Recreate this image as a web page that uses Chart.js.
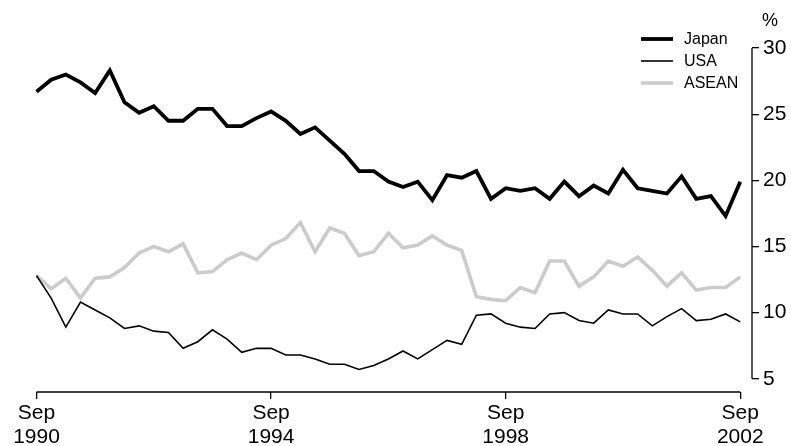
<!DOCTYPE html>
<html>
<head>
<meta charset="utf-8">
<script src="https://cdn.jsdelivr.net/npm/chart.js@4.4.1/dist/chart.umd.min.js"></script>
<style>
  html, body { margin: 0; padding: 0; background: #fff; }
  #wrap { width: 791px; height: 446px; }
</style>
</head>
<body>
<div id="wrap"><canvas id="c" width="791" height="446"></canvas></div>
<script>
const quarters = [
  'Sep 1990','Dec 1990','Mar 1991','Jun 1991','Sep 1991','Dec 1991','Mar 1992','Jun 1992',
  'Sep 1992','Dec 1992','Mar 1993','Jun 1993','Sep 1993','Dec 1993','Mar 1994','Jun 1994',
  'Sep 1994','Dec 1994','Mar 1995','Jun 1995','Sep 1995','Dec 1995','Mar 1996','Jun 1996',
  'Sep 1996','Dec 1996','Mar 1997','Jun 1997','Sep 1997','Dec 1997','Mar 1998','Jun 1998',
  'Sep 1998','Dec 1998','Mar 1999','Jun 1999','Sep 1999','Dec 1999','Mar 2000','Jun 2000',
  'Sep 2000','Dec 2000','Mar 2001','Jun 2001','Sep 2001','Dec 2001','Mar 2002','Jun 2002',
  'Sep 2002'
];
const japan = [26.7, 27.6, 28.0, 27.4, 26.6, 28.3, 25.9, 25.1, 25.6, 24.5,
               24.5, 25.4, 25.4, 24.1, 24.1, 24.7, 25.2, 24.5, 23.5, 24.0,
               23.0, 22.0, 20.7, 20.7, 19.9, 19.5, 19.9, 18.5, 20.4, 20.2,
               20.7, 18.6, 19.4, 19.2, 19.4, 18.6, 19.9, 18.8, 19.6, 19.0,
               20.8, 19.4, 19.2, 19.0, 20.3, 18.6, 18.8, 17.3, 19.9];
const usa = [12.8, 11.1, 8.9, 10.8, 10.2, 9.6, 8.8, 9.0, 8.6, 8.5,
             7.3, 7.8, 8.7, 8.0, 7.0, 7.3, 7.3, 6.8, 6.8, 6.5,
             6.1, 6.1, 5.7, 6.0, 6.5, 7.1, 6.5, 7.2, 7.9, 7.6,
             9.8, 9.9, 9.2, 8.9, 8.8, 9.9, 10.0, 9.4, 9.2, 10.2,
             9.9, 9.9, 9.0, 9.7, 10.3, 9.4, 9.5, 9.9, 9.3];
const asean = [12.8, 11.8, 12.6, 11.1, 12.6, 12.7, 13.4, 14.5, 15.0, 14.6,
               15.2, 13.0, 13.1, 14.0, 14.5, 14.0, 15.1, 15.6, 16.8, 14.6,
               16.4, 16.0, 14.3, 14.6, 16.0, 14.9, 15.1, 15.8, 15.1, 14.7,
               11.2, 11.0, 10.9, 11.9, 11.5, 13.9, 13.9, 12.0, 12.7, 13.9,
               13.5, 14.2, 13.2, 12.0, 13.0, 11.7, 11.9, 11.9, 12.7];
const xTickIndex = [0, 16, 32, 48];
const xTickLabels = [['Sep', '1990'], ['Sep', '1994'], ['Sep', '1998'], ['Sep', '2002']];
const yTicks = [5, 10, 15, 20, 25, 30];
const unitLabel = '%';

const FONT = "'Liberation Sans', Arial, sans-serif";
const toPts = arr => arr.map((v, i) => ({ x: i, y: v }));

const axisLines = {
  id: 'axisLines',
  afterDraw(chart) {
    const ctx = chart.ctx;
    const xs = chart.scales.x, ys = chart.scales.y;
    const ca = chart.chartArea;
    ctx.save();
    ctx.strokeStyle = '#000';
    ctx.lineWidth = 1.3;
    // x axis line
    ctx.beginPath();
    ctx.moveTo(xs.getPixelForValue(0), ca.bottom);
    ctx.lineTo(xs.getPixelForValue(quarters.length - 1), ca.bottom);
    ctx.stroke();
    // y axis line
    ctx.beginPath();
    ctx.moveTo(ca.right, ys.getPixelForValue(yTicks[yTicks.length - 1]));
    ctx.lineTo(ca.right, ys.getPixelForValue(yTicks[0]));
    ctx.stroke();
    // unit label
    ctx.fillStyle = '#000';
    ctx.font = "18px " + FONT;
    ctx.textAlign = 'center';
    ctx.textBaseline = 'middle';
    ctx.fillText(unitLabel, 770, 21);
    // legend
    ctx.font = "16px " + FONT;
    ctx.textAlign = 'left';
    chart.data.datasets.forEach((ds, i) => {
      const y = 39 + i * 22;
      ctx.beginPath();
      ctx.strokeStyle = ds.borderColor;
      ctx.lineWidth = ds.borderWidth;
      ctx.moveTo(641, y);
      ctx.lineTo(673, y);
      ctx.stroke();
      ctx.fillStyle = '#000';
      ctx.fillText(ds.label, 684, y + 1);
    });
    ctx.restore();
  }
};

new Chart(document.getElementById('c'), {
  type: 'line',
  data: {
    datasets: [
      { label: 'Japan', data: toPts(japan), borderColor: '#000000', borderWidth: 3.8 },
      { label: 'USA', data: toPts(usa), borderColor: '#000000', borderWidth: 1.6 },
      { label: 'ASEAN', data: toPts(asean), borderColor: '#cbcbcb', borderWidth: 3.6 }
    ]
  },
  options: {
    responsive: false,
    animation: false,
    devicePixelRatio: 1,
    layout: { padding: { left: 36.5, top: 48, right: 0, bottom: 0 } },
    elements: {
      point: { radius: 0 },
      line: { tension: 0, fill: false, borderCapStyle: 'butt', borderJoinStyle: 'miter' }
    },
    datasets: { line: { clip: false } },
    plugins: { legend: { display: false }, tooltip: { enabled: false } },
    scales: {
      x: {
        type: 'linear',
        min: 0,
        max: 48.8,
        grid: { display: true, drawOnChartArea: false, drawTicks: true, tickLength: 7, color: '#000', lineWidth: 1.3 },
        border: { display: false },
        afterBuildTicks: s => { s.ticks = xTickIndex.map(v => ({ value: v })); },
        afterFit: s => { s.height = 54; },
        ticks: {
          autoSkip: false, maxRotation: 0, minRotation: 0, padding: 2,
          color: '#000',
          font: { family: FONT, size: 21, lineHeight: 1.15 },
          callback: v => { const k = xTickIndex.indexOf(v); return k >= 0 ? xTickLabels[k] : ''; }
        }
      },
      y: {
        type: 'linear',
        position: 'right',
        min: 4.0,
        max: 30,
        grid: { display: true, drawOnChartArea: false, drawTicks: true, tickLength: 7, color: '#000', lineWidth: 1.3 },
        border: { display: false },
        afterBuildTicks: s => { s.ticks = yTicks.map(v => ({ value: v })); },
        afterFit: s => { s.width = 39; },
        ticks: {
          padding: 4,
          color: '#000',
          font: { family: FONT, size: 21 },
          callback: v => String(v)
        }
      }
    }
  },
  plugins: [axisLines]
});
</script>
</body>
</html>
